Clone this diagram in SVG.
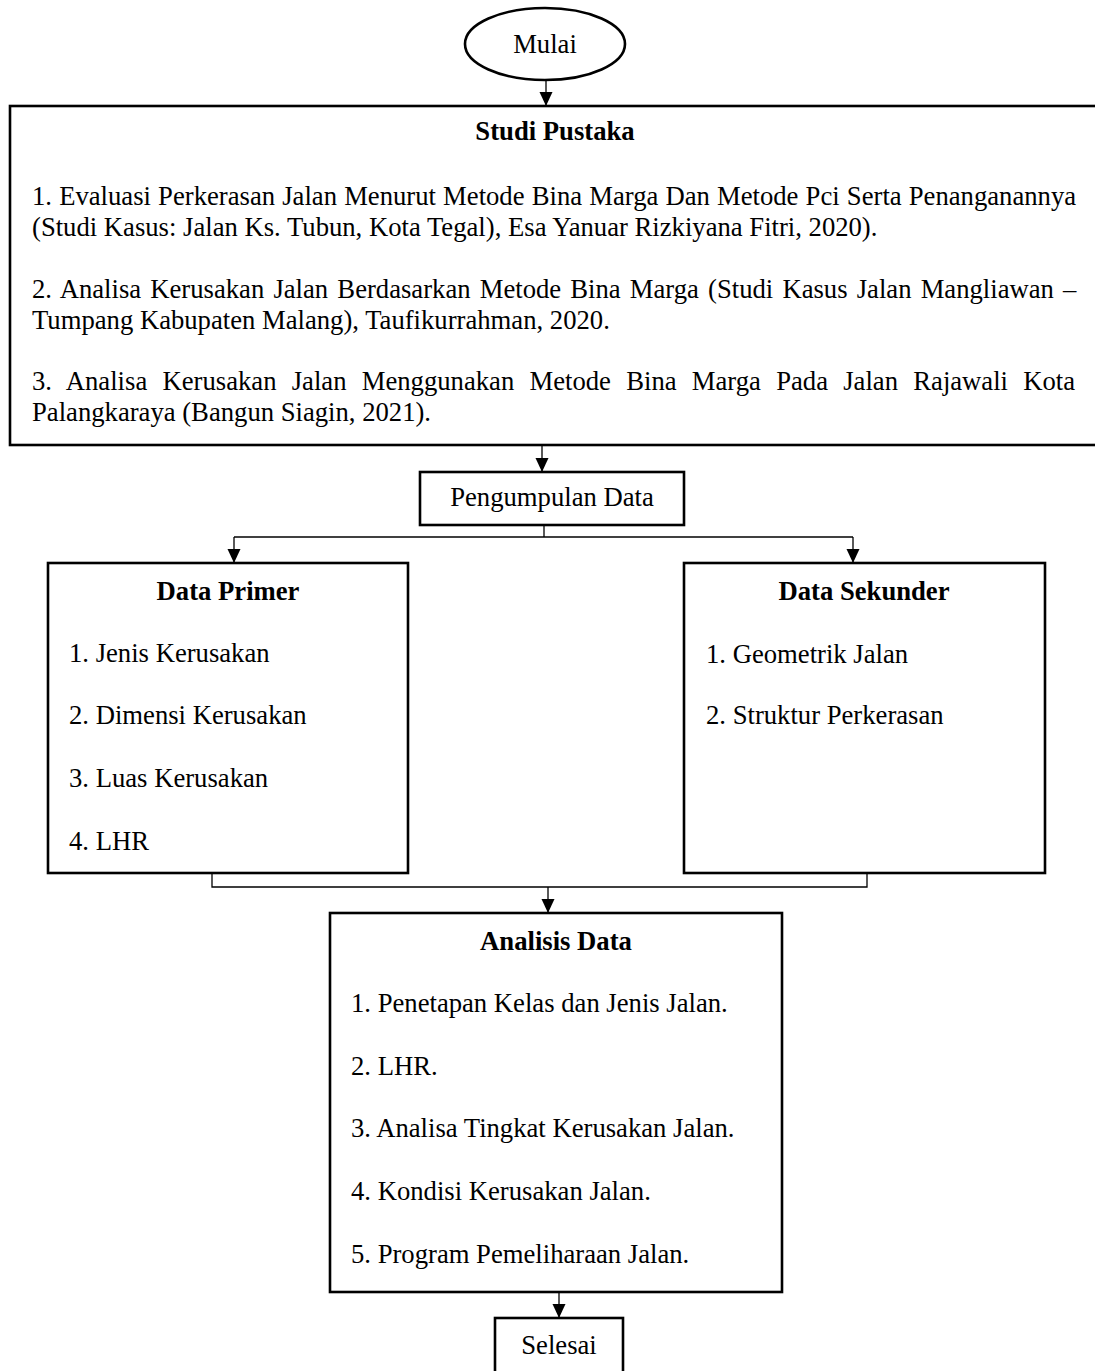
<svg xmlns="http://www.w3.org/2000/svg" width="1095" height="1371" viewBox="0 0 1095 1371">
<defs>
<style>
text{font-family:"Liberation Serif","Times New Roman",serif;font-size:26.67px;fill:#000}
.b{font-weight:bold}
.c{text-anchor:middle}
.box{fill:#fff;stroke:#000;stroke-width:2.6}
.con{fill:none;stroke:#000;stroke-width:1.3}
</style>
<marker id="ah" markerUnits="userSpaceOnUse" markerWidth="14" markerHeight="14" refX="14" refY="7" orient="auto" viewBox="0 0 14 14">
<path d="M0,0.5 L14,7 L0,13.5 z" fill="#000"/>
</marker>
</defs>
<rect width="1095" height="1371" fill="#fff"/>
<g id="connectors">
<line class="con" x1="546" y1="80" x2="546" y2="106" marker-end="url(#ah)"/>
<line class="con" x1="542" y1="446" x2="542" y2="472" marker-end="url(#ah)"/>
<polyline class="con" points="544,525 544,537"/>
<line class="con" x1="234" y1="537" x2="853" y2="537"/>
<line class="con" x1="234" y1="537" x2="234" y2="563" marker-end="url(#ah)"/>
<line class="con" x1="853" y1="537" x2="853" y2="563" marker-end="url(#ah)"/>
<polyline class="con" points="212,873 212,887 867,887 867,873"/>
<line class="con" x1="548" y1="887" x2="548" y2="913" marker-end="url(#ah)"/>
<line class="con" x1="559" y1="1292" x2="559" y2="1318" marker-end="url(#ah)"/>
</g>
<g id="mulai">
<ellipse class="box" cx="545" cy="44" rx="80" ry="36"/>
<text class="c" x="545" y="53">Mulai</text>
</g>
<g id="studi-pustaka">
<rect class="box" x="10" y="106" width="1095" height="339"/>
<text class="b c" x="555" y="140">Studi Pustaka</text>
<text x="32" y="205" word-spacing="0.5">1. Evaluasi Perkerasan Jalan Menurut Metode Bina Marga Dan Metode Pci Serta Penanganannya</text>
<text x="32" y="236">(Studi Kasus: Jalan Ks. Tubun, Kota Tegal), Esa Yanuar Rizkiyana Fitri, 2020).</text>
<text x="32" y="298" word-spacing="2.5">2. Analisa Kerusakan Jalan Berdasarkan Metode Bina Marga (Studi Kasus Jalan Mangliawan –</text>
<text x="32" y="329">Tumpang Kabupaten Malang), Taufikurrahman, 2020.</text>
<text x="32" y="390" word-spacing="8.6">3. Analisa Kerusakan Jalan Menggunakan Metode Bina Marga Pada Jalan Rajawali Kota</text>
<text x="32" y="421">Palangkaraya (Bangun Siagin, 2021).</text>
</g>
<g id="pengumpulan-data">
<rect class="box" x="420" y="472" width="264" height="53"/>
<text class="c" x="552" y="506">Pengumpulan Data</text>
</g>
<g id="data-primer">
<rect class="box" x="48" y="563" width="360" height="310"/>
<text class="b c" x="228" y="600">Data Primer</text>
<text x="69" y="662">1. Jenis Kerusakan</text>
<text x="69" y="724">2. Dimensi Kerusakan</text>
<text x="69" y="787">3. Luas Kerusakan</text>
<text x="69" y="850">4. LHR</text>
</g>
<g id="data-sekunder">
<rect class="box" x="684" y="563" width="361" height="310"/>
<text class="b c" x="864" y="600">Data Sekunder</text>
<text x="706" y="663">1. Geometrik Jalan</text>
<text x="706" y="724">2. Struktur Perkerasan</text>
</g>
<g id="analisis-data">
<rect class="box" x="330" y="913" width="452" height="379"/>
<text class="b c" x="556" y="950">Analisis Data</text>
<text x="351" y="1012">1. Penetapan Kelas dan Jenis Jalan.</text>
<text x="351" y="1075">2. LHR.</text>
<text x="351" y="1137">3. Analisa Tingkat Kerusakan Jalan.</text>
<text x="351" y="1200">4. Kondisi Kerusakan Jalan.</text>
<text x="351" y="1263">5. Program Pemeliharaan Jalan.</text>
</g>
<g id="selesai">
<rect class="box" x="495" y="1318" width="128" height="70"/>
<text class="c" x="559" y="1354">Selesai</text>
</g>
</svg>
